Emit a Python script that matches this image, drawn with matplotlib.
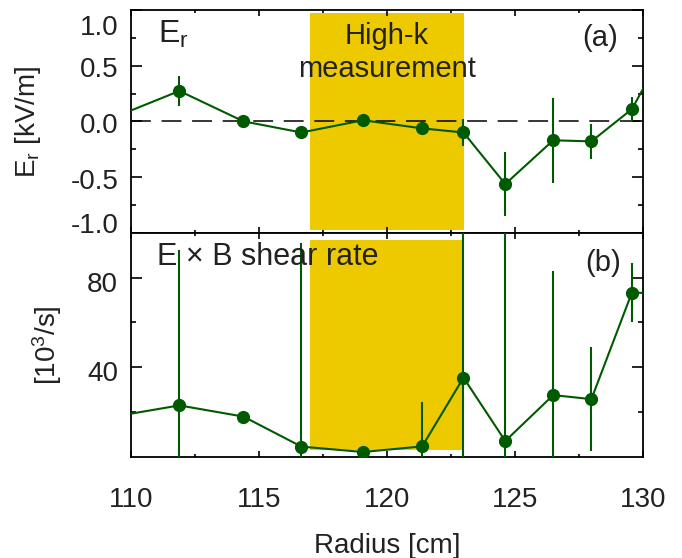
import matplotlib
matplotlib.use('Agg')
import matplotlib.pyplot as plt
from matplotlib.transforms import ScaledTranslation

plt.rcParams['font.family'] = ['Liberation Sans', 'DejaVu Sans']
plt.rcParams['mathtext.fontset'] = 'custom'
plt.rcParams['mathtext.rm'] = 'Liberation Sans'
plt.rcParams['mathtext.it'] = 'Liberation Sans:italic'
plt.rcParams['mathtext.bf'] = 'Liberation Sans:bold'

# ---------------- data ----------------
radius = [109.5, 111.9, 114.4, 116.66, 119.06, 121.37, 122.98, 124.61, 126.48, 127.97, 129.55, 131.1]
er = [0.05, 0.273, 0.0, -0.10, 0.01, -0.063, -0.10, -0.563, -0.17, -0.18, 0.11, 0.76]
er_err = [0.10, 0.135, 0.02, 0.02, 0.02, 0.02, 0.12, 0.29, 0.38, 0.16, 0.11, 0.10]
shear = [18.2, 22.9, 17.9, 4.5, 2.1, 4.6, 35.3, 7.0, 27.5, 25.7, 73.3, 72.6]
shear_err = [10.0, 69.5, 2.0, 90.9, 1.0, 19.6, 80.0, 110.0, 55.2, 23.1, 13.2, 10.0]

highk_range = (117.0, 123.0)
x_major = [110, 115, 120, 125, 130]
x_minor = [112.5, 117.5, 122.5, 127.5]
er_ticks = [-1.0, -0.5, 0.0, 0.5, 1.0]
er_ticklabels = ['-1.0', '-0.5', '0.0', '0.5', '1.0']
er_minor = [-0.75, -0.25, 0.25, 0.75]
shear_ticks = [40, 80]
shear_ticklabels = ['40', '80']
shear_minor = [20, 60]

GREEN = '#005a00'
GOLD = '#edc900'
TXT = '#222222'
FS = 20

fig = plt.figure(figsize=(6.82, 5.58), dpi=100)
ax1 = fig.add_axes([0.1916, 0.58297, 0.7519, 0.39911])
ax2 = fig.add_axes([0.1916, 0.18154, 0.7519, 0.40143])

panels = [
    (ax1, er, er_err, (-1.0, 1.0), (0.0125, 0.985)),
    (ax2, shear, shear_err, (0, 100), (0.031, 0.969)),
]
for ax, vals, errs, ylim, span in panels:
    ax.set_xlim(110, 130)
    ax.set_ylim(*ylim)
    ax.axvspan(highk_range[0], highk_range[1], ymin=span[0], ymax=span[1],
               color=GOLD, lw=0, zorder=0)
    ax.errorbar(radius, vals, yerr=errs, fmt='-o', color=GREEN, ms=8.5,
                lw=1.5, elinewidth=1.5, capsize=0, zorder=3)
    ax.set_xticks(x_major)
    ax.set_xticks(x_minor, minor=True)
    ax.tick_params(which='both', direction='in', top=True, right=True,
                   width=1.2, color='black', labelsize=FS, labelcolor=TXT)
    ax.tick_params(axis='x', which='major', length=4, pad=22)
    ax.tick_params(axis='x', which='minor', length=2)
    ax.tick_params(axis='y', which='major', length=8, pad=9)
    ax.tick_params(axis='y', which='minor', length=3.6)
    for s in ax.spines.values():
        s.set_linewidth(1.3)

ax1.axhline(0, color='black', lw=1.1, dashes=(13, 7), zorder=2)
ax1.tick_params(axis='x', labelbottom=False)

ax1.set_yticks(er_ticks, labels=er_ticklabels)
ax1.set_yticks(er_minor, minor=True)
ax2.set_yticks(shear_ticks, labels=shear_ticklabels)
ax2.set_yticks(shear_minor, minor=True)

# IDL-style: end labels pulled inside the axis, others sit slightly low
def shift(label, dy_px):
    label.set_transform(label.get_transform() +
                        ScaledTranslation(0, -dy_px / 100.0, fig.dpi_scale_trans))

ticks1 = ax1.yaxis.get_major_ticks()
ticks1[0].label1.set_va('baseline')
ticks1[-1].label1.set_va('top')
shift(ticks1[-1].label1, 5)
for t in ticks1[1:-1]:
    shift(t.label1, 1.5)
for t in ax2.yaxis.get_major_ticks():
    shift(t.label1, 4)

ax1.set_ylabel(r'$\mathrm{E_r}$ [kV/m]', fontsize=FS, color=TXT, va='center')
ax1.yaxis.set_label_coords(-0.2000, 0.5)
ax2.set_ylabel(r'[10$^{3}$/s]', fontsize=FS, color=TXT, va='center')
ax2.yaxis.set_label_coords(-0.1620, 0.5)
ax2.set_xlabel('Radius [cm]', fontsize=FS, color=TXT)
ax2.xaxis.set_label_coords(0.5, -0.3415)

ax1.text(0.0538, 0.852, r'$\mathrm{E_r}$', transform=ax1.transAxes,
         fontsize=FS + 3, color=TXT, va='baseline', ha='left')
ax1.text(0.9152, 0.8765, '(a)', transform=ax1.transAxes,
         fontsize=FS + 1, color=TXT, va='center', ha='center')
ax1.text(sum(highk_range) / 2, 0.395, 'High-k\nmeasurement', fontsize=FS + 1,
         color=TXT, ha='center', va='baseline', linespacing=1.25, zorder=4)

ax2.text(0.0519, 0.8536, 'E × B shear rate', transform=ax2.transAxes,
         fontsize=FS + 2, color=TXT, va='baseline', ha='left')
ax2.text(0.9209, 0.8626, '(b)', transform=ax2.transAxes,
         fontsize=FS + 1, color=TXT, va='center', ha='center')

fig.savefig('out.png', dpi=100)
